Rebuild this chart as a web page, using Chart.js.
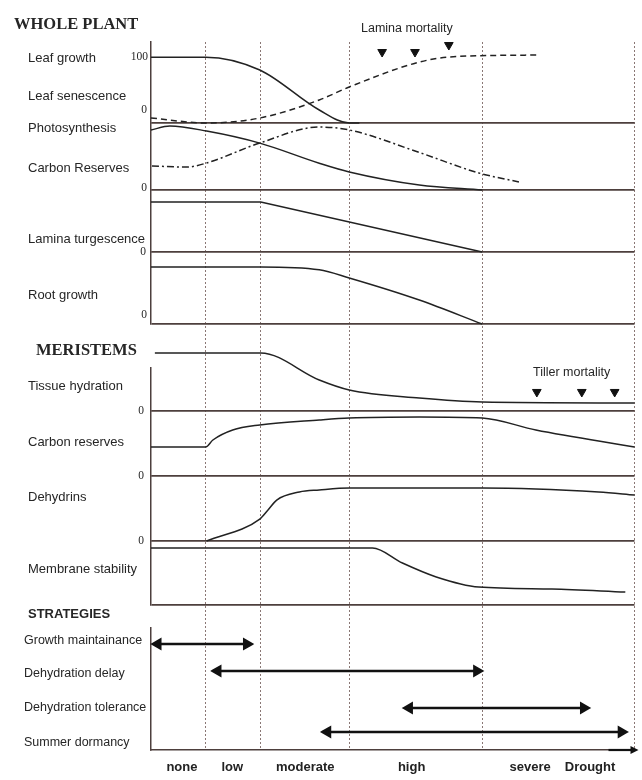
<!DOCTYPE html>
<html>
<head>
<meta charset="utf-8">
<script src="https://cdn.jsdelivr.net/npm/chart.js@4.4.1/dist/chart.umd.min.js"></script>
<style>
  html, body { margin: 0; padding: 0; background: #fff; }
  canvas { display: block; }
</style>
</head>
<body>
<canvas id="chart" width="642" height="780"></canvas>
<script>
// drought intensity, 0..100 along the x axis
const stageBounds = [11.3, 22.7, 41.0, 68.5, 100];
const stageNames = ['none', 'low', 'moderate', 'high', 'severe', 'Drought'];
const stageNameAt = [6.4, 16.8, 31.9, 53.9, 78.4, 90.8];

// WHOLE PLANT
const leafGrowthX = [0, 11.3, 22.5, 34.8, 41.0, 43.1];
const leafGrowthY = [100, 100, 80.5, 19.7, 0, 0];
const leafSenescenceX = [0, 11.5, 22.5, 34.8, 41.0, 54.8, 61.6, 80.2];
const leafSenescenceY = [7.6, 0, 7.6, 35, 54.7, 91.1, 100.2, 103.3];
const laminaDeathX = [47.8, 54.6, 61.6];
const laminaDeathY = [107.8, 107.8, 118.4];

const photosynthesisX = [0, 3.9, 11.5, 22.5, 34.8, 41.0, 55.5, 68.5];
const photosynthesisY = [89.6, 95.5, 88, 70, 40, 27, 7.5, 0];
const carbonPlantX = [0.2, 7.4, 11.5, 22.5, 34.8, 41.0, 55.5, 67.8, 76.1];
const carbonPlantY = [35.8, 34.3, 40.3, 70.1, 94, 89.6, 56, 25.4, 12];

const laminaTurgX = [0, 22.7, 68.5];
const laminaTurgY = [100, 100, 0];
const rootGrowthX = [0, 22.7, 34.8, 41.0, 55.5, 68.5];
const rootGrowthY = [100, 100, 95, 80.7, 42, 0];

// MERISTEMS
const tissueHydX = [0.8, 22.7, 34.8, 41.0, 55.5, 68.5, 100];
const tissueHydY = [100, 100, 53.4, 36.2, 22.4, 15.5, 13.8];
const tillerDeathX = [79.8, 89.1, 95.9];
const tillerDeathY = [32.8, 32.8, 32.8];
const carbonMerX = [0, 11.3, 12.8, 16.9, 22.5, 34.8, 41.0, 55.5, 68.5, 79.6, 100];
const carbonMerY = [44.6, 44.6, 55.4, 70.8, 78.5, 86.2, 89.2, 90.8, 89.2, 70.8, 44.6];
const dehydrinsX = [11.5, 22.5, 24.2, 26.0, 30.7, 34.8, 41.0, 68.5, 92.6, 100];
const dehydrinsY = [0, 33.8, 47.7, 63, 75.4, 78.5, 81.5, 81.5, 75.4, 70.8];
const membraneX = [0, 45.8, 52.0, 59.0, 67.8, 82.9, 98.1];
const membraneY = [89, 89, 65.6, 43.8, 28, 25, 20.3];

// STRATEGIES
const strategyNames = ['Growth maintainance', 'Dehydration delay', 'Dehydration tolerance', 'Summer dormancy'];
const strategyRow = [4.34, 3.24, 1.72, 0.74];
const strategyFrom = [1.4, 13.8, 53.4, 36.5];
const strategyTo = [19.8, 67.4, 89.5, 97.3];

const ink = '#222';
const axisInk = '#4d3f3d';

function pts(xs, ys) {
  return xs.map((x, i) => ({ x: x, y: ys[i] }));
}

// stacked panels, top to bottom (h = share of the plot height)
const panels = [
  { id: 'yLeaf', h: 81, max: 123 },
  { id: 'yPhoto', h: 67, max: 100 },
  { id: 'yLamina', h: 62, max: 124 },
  { id: 'yRoot', h: 72, max: 126.3 },
  { id: 'gap1', h: 44, max: 1, gap: true },
  { id: 'yTissue', h: 43, max: 74.1 },
  { id: 'yMerCarb', h: 65, max: 100 },
  { id: 'yDehyd', h: 65, max: 100 },
  { id: 'yMemb', h: 64, max: 100 },
  { id: 'gap2', h: 23, max: 1, gap: true },
  { id: 'yStrat', h: 122, max: 5, noGrid: true }
];

const scales = {
  x: {
    type: 'linear',
    min: 0,
    max: 100,
    afterBuildTicks: s => {
      s.ticks = stageBounds.concat(stageNameAt).sort((a, b) => a - b).map(v => ({ value: v }));
    },
    afterFit: s => {
      s.height = 30;
      s.paddingLeft = 0;
      s.paddingRight = 0;
    },
    ticks: {
      autoSkip: false,
      maxRotation: 0,
      padding: 10,
      color: ink,
      font: { size: 13, weight: 'bold' },
      callback: v => {
        const i = stageNameAt.indexOf(v);
        return i >= 0 ? stageNames[i] : '';
      }
    },
    grid: {
      drawTicks: false,
      lineWidth: 1,
      color: ctx => (ctx.tick && stageBounds.includes(ctx.tick.value)) ? '#8a7774' : 'rgba(0,0,0,0)'
    },
    border: { display: true, color: axisInk, width: 1.5, dash: [2, 2] }
  }
};

panels.forEach((p, i) => {
  scales[p.id] = {
    type: 'linear',
    position: 'left',
    stack: 'panels',
    stackWeight: p.h,
    weight: panels.length - i,
    min: 0,
    max: p.max,
    afterBuildTicks: s => { s.ticks = (p.gap || p.noGrid) ? [] : [{ value: 0 }]; },
    afterFit: s => { s.width = 151; },
    ticks: { display: false },
    grid: { display: !(p.gap || p.noGrid), drawTicks: false, color: axisInk, lineWidth: 1.8 },
    border: { display: !p.gap, color: axisInk, width: 1.5 }
  };
});

function curve(data, yAxisID, extra) {
  return Object.assign({
    data: data,
    yAxisID: yAxisID,
    borderColor: ink,
    borderWidth: 1.5,
    pointRadius: 0,
    cubicInterpolationMode: 'monotone',
    clip: false
  }, extra || {});
}

function markers(data, yAxisID) {
  return {
    data: data,
    yAxisID: yAxisID,
    showLine: false,
    pointStyle: 'triangle',
    pointRotation: 180,
    pointRadius: 5,
    pointBackgroundColor: '#111',
    pointBorderColor: '#111',
    clip: false
  };
}

const datasets = [
  curve(pts(leafGrowthX, leafGrowthY), 'yLeaf'),
  curve(pts(leafSenescenceX, leafSenescenceY), 'yLeaf', { borderDash: [6, 4] }),
  markers(pts(laminaDeathX, laminaDeathY), 'yLeaf'),
  curve(pts(photosynthesisX, photosynthesisY), 'yPhoto'),
  curve(pts(carbonPlantX, carbonPlantY), 'yPhoto', { borderDash: [7, 3, 2, 3] }),
  curve(pts(laminaTurgX, laminaTurgY), 'yLamina', { cubicInterpolationMode: 'default', tension: 0 }),
  curve(pts(rootGrowthX, rootGrowthY), 'yRoot'),
  curve(pts(tissueHydX, tissueHydY), 'yTissue'),
  markers(pts(tillerDeathX, tillerDeathY), 'yTissue'),
  curve(pts(carbonMerX, carbonMerY), 'yMerCarb'),
  curve(pts(dehydrinsX, dehydrinsY), 'yDehyd'),
  curve(pts(membraneX, membraneY), 'yMemb')
];

strategyNames.forEach((name, i) => {
  datasets.push({
    label: name,
    data: [{ x: strategyFrom[i], y: strategyRow[i] }, { x: strategyTo[i], y: strategyRow[i] }],
    yAxisID: 'yStrat',
    borderColor: '#111',
    borderWidth: 2.5,
    pointStyle: 'triangle',
    pointRadius: 5,
    pointRotation: [270, 90],
    pointBackgroundColor: '#111',
    pointBorderColor: '#111',
    tension: 0,
    clip: false
  });
});

const serifBold = 'bold 16.5px "Liberation Serif", "Times New Roman", serif';
const sansBold = 'bold 13px "Liberation Sans", Arial, sans-serif';
const sans = '13px "Liberation Sans", Arial, sans-serif';
const sansSmall = '12.5px "Liberation Sans", Arial, sans-serif';
const num = '11.5px "Liberation Serif", "Times New Roman", serif';

// text beside the panels
const labelPlugin = {
  id: 'labels',
  afterDraw(chart) {
    const ctx = chart.ctx;
    const items = [
      ['WHOLE PLANT', 14, 25, serifBold, 'left'],
      ['Leaf growth', 28, 58, sans, 'left'],
      ['Leaf senescence', 28, 96, sans, 'left'],
      ['Photosynthesis', 28, 128, sans, 'left'],
      ['Carbon Reserves', 28, 168, sans, 'left'],
      ['Lamina turgescence', 28, 239, sans, 'left'],
      ['Root growth', 28, 295, sans, 'left'],
      ['MERISTEMS', 36, 351, serifBold, 'left'],
      ['Tissue hydration', 28, 386, sans, 'left'],
      ['Carbon reserves', 28, 442, sans, 'left'],
      ['Dehydrins', 28, 497, sans, 'left'],
      ['Membrane stability', 28, 569, sans, 'left'],
      ['STRATEGIES', 28, 614, sansBold, 'left'],
      [strategyNames[0], 24, 641, sansSmall, 'left'],
      [strategyNames[1], 24, 674, sansSmall, 'left'],
      [strategyNames[2], 24, 708, sansSmall, 'left'],
      [strategyNames[3], 24, 743, sansSmall, 'left'],
      ['100', 148, 57, num, 'right'],
      ['0', 147, 110, num, 'right'],
      ['0', 147, 188, num, 'right'],
      ['0', 146, 252, num, 'right'],
      ['0', 147, 315, num, 'right'],
      ['0', 144, 411, num, 'right'],
      ['0', 144, 476, num, 'right'],
      ['0', 144, 541, num, 'right'],
      ['Lamina mortality', 361, 29, sansSmall, 'left'],
      ['Tiller mortality', 533, 373, sansSmall, 'left']
    ];
    ctx.save();
    ctx.fillStyle = '#262626';
    ctx.textBaseline = 'middle';
    items.forEach(([t, x, y, f, a]) => {
      ctx.font = f;
      ctx.textAlign = a;
      ctx.fillText(t, x, y);
    });
    // arrow tip on the drought axis
    const xs = chart.scales.x;
    const y = xs.top;
    ctx.strokeStyle = '#111';
    ctx.lineWidth = 2.2;
    ctx.beginPath();
    ctx.moveTo(xs.right - 26, y);
    ctx.lineTo(xs.right, y);
    ctx.stroke();
    ctx.fillStyle = '#111';
    ctx.beginPath();
    ctx.moveTo(xs.right + 4, y);
    ctx.lineTo(xs.right - 4, y - 4);
    ctx.lineTo(xs.right - 4, y + 4);
    ctx.closePath();
    ctx.fill();
    ctx.restore();
  }
};

Chart.defaults.font.family = '"Liberation Sans", Arial, sans-serif';

new Chart(document.getElementById('chart'), {
  type: 'line',
  data: { datasets: datasets },
  options: {
    responsive: false,
    animation: false,
    layout: { padding: { top: 42, right: 3, left: 0, bottom: 0 } },
    scales: scales,
    plugins: {
      legend: { display: false },
      tooltip: { enabled: false }
    }
  },
  plugins: [labelPlugin]
});
</script>
</body>
</html>
